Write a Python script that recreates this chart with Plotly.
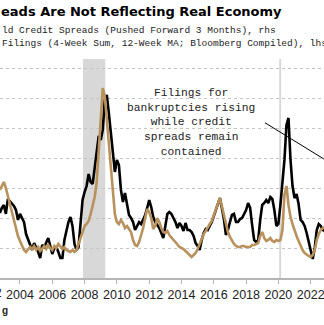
import plotly.graph_objects as go

# Bankruptcy filings (4-week sum, 12-week MA), lhs — sampled every 1.5 months from Oct 2002
filings = [43.3, 46.7, 48.7, 42.7, 52.7, 51.3, 50, 48, 45.3, 38.7, 42.7, 40, 37.3, 29.3, 25.3, 22,
           18.7, 23.3, 20.7, 17.3, 13.3, 22, 20.7, 24, 26.7, 21.3, 16, 20, 20.7, 17.3, 13.3, 13.3,
           25.3, 31.3, 37.3, 40.7, 34.7, 22.7, 18.7, 20.7, 37.3, 52, 57.3, 61.3, 69.3, 64, 62.7, 73.3,
           82, 94.7, 92, 98.7, 118.7, 122, 110, 95.3, 84, 70.7, 78.7, 75.3, 58.7, 50.7, 56.7, 48.7,
           42, 40, 37.3, 32, 34.7, 37.3, 36, 38.7, 42, 46.7, 52, 47.3, 40.7, 37.3, 35.3, 33.3,
           30, 26.7, 34.7, 42.7, 44, 42.7, 40, 37.3, 33.3, 36.7, 34.7, 31.3, 36.7, 32, 32, 30.7,
           28, 23.3, 21.3, 18.7, 25.3, 30, 32.7, 32, 34.7, 37.3, 41.3, 45.3, 49.3, 53.3, 46.7, 39.3,
           28.7, 32, 37.3, 42, 42.7, 37.3, 37.3, 39.3, 40, 42.7, 45.3, 50, 46.7, 35.3, 25.3, 24,
           25.3, 38.7, 48.7, 50, 52, 50, 54, 52.7, 45.3, 34.7, 36, 48.7, 63.3, 78.7, 102, 106.7,
           78.7, 61.3, 53.3, 56, 49.3, 38.7, 37.3, 34.7, 30, 24, 18, 12.7, 20, 32, 36, 34.7,
           32, 31.3]

# High yield credit spreads (pushed forward 3 months), rhs, bp
spreads = [880, 920, 960, 900, 820, 730, 650, 570, 480, 420, 370, 320, 280, 260, 290, 310,
           290, 320, 280, 310, 270, 300, 320, 290, 330, 300, 280, 320, 300, 340, 310, 290,
           310, 280, 270, 260, 280, 260, 280, 330, 400, 460, 520, 540, 570, 640, 730, 810,
           960, 1280, 1530, 1900, 1820, 1580, 1330, 1100, 800, 640, 560, 540, 580, 550, 500, 520,
           490, 460, 380, 330, 320, 360, 430, 500, 600, 690, 660, 600, 490, 520, 600, 560,
           500, 460, 450, 470, 430, 400, 380, 360, 330, 310, 300, 290, 270, 250, 230, 210,
           230, 250, 290, 340, 400, 440, 470, 510, 540, 570, 630, 670, 750, 800, 720, 630,
           530, 460, 410, 370, 340, 320, 310, 310, 320, 320, 310, 310, 310, 330, 330, 340,
           350, 420, 460, 400, 370, 380, 400, 370, 360, 380, 370, 380, 480, 830, 920, 730,
           610, 540, 470, 420, 370, 320, 280, 250, 230, 220, 210, 230, 280, 380, 440, 480,
           500, 510]

start_year = 2002.75
step = 0.125
years_f = [start_year + step * i for i in range(len(filings))]
years_s = [start_year + step * i for i in range(len(spreads))]

tick_years = [2004, 2006, 2008, 2010, 2012, 2014, 2016, 2018, 2020, 2022]
recessions = [(2007.9, 2009.28), (2020.05, 2020.17)]

W, H = 324, 325
PT, PB = 59, 278  # plot top / bottom in px
X0, X1 = 2002.762, 2022.824

def px(x):
    return x / W

def py(y):
    return (PB - y) / (PB - PT)

fig = go.Figure()
fig.add_trace(go.Scatter(x=years_s, y=spreads, mode="lines", yaxis="y2",
                         line=dict(color="#b8915c", width=2.6), name="High Yield Credit Spreads"))
fig.add_trace(go.Scatter(x=years_f, y=filings, mode="lines",
                         line=dict(color="#000000", width=2.6), name="Bankruptcy Filings"))

shapes = []
for a, b in recessions:
    shapes.append(dict(type="rect", xref="x", yref="paper", x0=a, x1=b, y0=0, y1=1,
                       fillcolor="#d8d8d8", line=dict(width=0), layer="below"))
# annotation pointer line
shapes.append(dict(type="line", xref="x", yref="y", x0=2019.17, y0=103.5, x1=2022.82, y1=79.3,
                   line=dict(color="#000000", width=1)))

annotations = [
    dict(text="<b>eads Are Not Reflecting Real Economy</b>", xref="paper", yref="paper",
         x=px(-1), y=py(12), xanchor="left", yanchor="middle", showarrow=False,
         font=dict(family="DejaVu Sans", size=13, color="#000")),
    dict(text="ld Credit Spreads (Pushed Forward 3 Months), rhs", xref="paper", yref="paper",
         x=px(0), y=py(30), xanchor="left", yanchor="middle", showarrow=False,
         font=dict(family="Liberation Mono", size=9.5, color="#222")),
    dict(text="Filings (4-Week Sum, 12-Week MA; Bloomberg Compiled), lhs", xref="paper", yref="paper",
         x=px(0), y=py(43.5), xanchor="left", yanchor="middle", showarrow=False,
         font=dict(family="Liberation Mono", size=9.5, color="#222")),
    dict(text="Filings for<br>bankruptcies rising<br>while credit<br>spreads remain<br>contained",
         xref="paper", yref="paper", x=px(191), y=py(122.5), xanchor="center", yanchor="middle",
         showarrow=False, align="center",
         font=dict(family="Liberation Mono", size=11.25, color="#222")),
    dict(text="2002", xref="paper", yref="paper", x=px(-12.3), y=py(292.5), xanchor="center",
         yanchor="middle", showarrow=False, font=dict(family="Liberation Sans", size=12.5, color="#222")),
    dict(text="<b>g</b>", xref="paper", yref="paper", x=px(0), y=py(310), xanchor="left",
         yanchor="middle", showarrow=False, font=dict(family="Liberation Sans", size=10, color="#222")),
]

fig.update_layout(
    width=W, height=H,
    margin=dict(l=0, r=0, t=PT, b=H - PB, pad=0),
    paper_bgcolor="white", plot_bgcolor="white",
    showlegend=False,
    shapes=shapes, annotations=annotations,
    xaxis=dict(range=[X0, X1], tickvals=tick_years, ticktext=[str(t) for t in tick_years],
               showgrid=False, zeroline=False, showline=True, linecolor="#b5b5b5", linewidth=2,
               ticks="outside", ticklen=4, tickcolor="#b5b5b5", tickwidth=1,
               ticklabeloverflow="allow",
               tickfont=dict(family="Liberation Sans", size=12.5, color="#222")),
    yaxis=dict(range=[0, (PB - PT) / 1.5], dtick=20, tick0=0, showgrid=True, gridcolor="#c4c4c4",
               griddash="dot", gridwidth=1, zeroline=False, showticklabels=False, showline=False),
    yaxis2=dict(range=[0, (PB - PT) * 10], overlaying="y", side="right", showgrid=False,
                zeroline=False, showticklabels=False, showline=False),
)

fig.write_html("out.html")
